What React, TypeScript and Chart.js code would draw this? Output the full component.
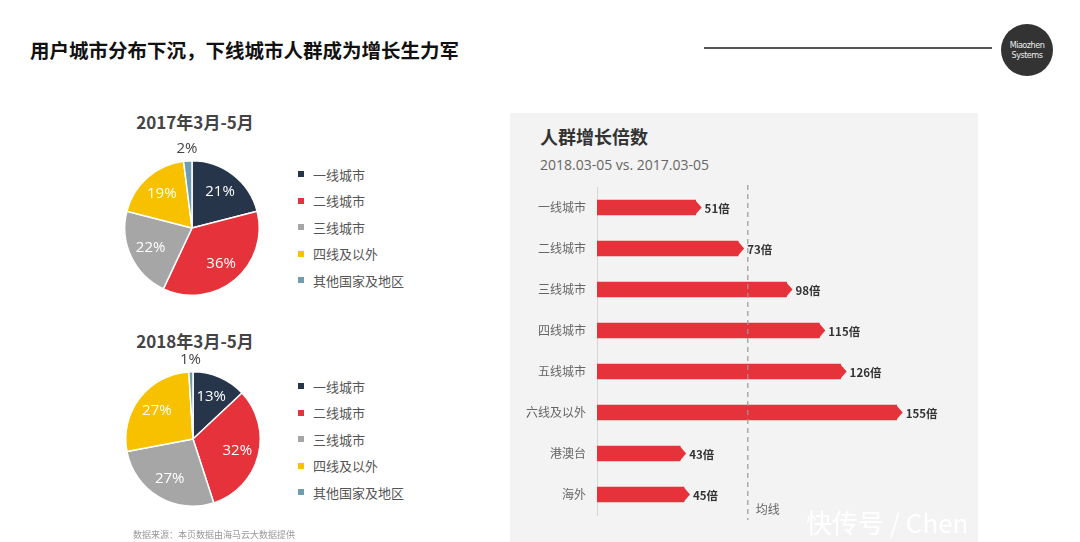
import React, { useEffect, useRef } from "react";
import { Chart, registerables } from "chart.js";

Chart.register(...registerables);

const pieCategories = ["一线城市", "二线城市", "三线城市", "四线及以外", "其他国家及地区"];
const pieColors = ["#26354a", "#e5323b", "#a6a6a6", "#f7c100", "#6f9db0"];
const pie2017Values = [21, 36, 22, 19, 2];
const pie2018Values = [13, 32, 27, 27, 1];

const barCategories = ["一线城市", "二线城市", "三线城市", "四线城市", "五线城市", "六线及以外", "港澳台", "海外"];
const barValues = [51, 73, 98, 115, 126, 155, 43, 45];
const averageValue = 78;

const CJK = '"Noto Sans CJK SC", "Noto Sans", sans-serif';
const LATIN = '"Open Sans", "Noto Sans CJK SC", sans-serif';

const pieLabelPlugin = {
  id: "pieLabels",
  afterDatasetsDraw(chart: any) {
    const ctx = chart.ctx;
    const meta = chart.getDatasetMeta(0);
    const data = chart.data.datasets[0].data as number[];
    ctx.save();
    meta.data.forEach((arc: any, i: number) => {
      const p = arc.getProps(["x", "y", "startAngle", "endAngle", "outerRadius"], true);
      const mid = (p.startAngle + p.endAngle) / 2;
      const v = data[i];
      const small = v < 5;
      const r = small ? p.outerRadius + 12 : p.outerRadius * 0.68;
      ctx.font = `15px ${LATIN}`;
      ctx.fillStyle = small ? "#444" : "#ffffff";
      ctx.textAlign = "center";
      ctx.textBaseline = "middle";
      ctx.fillText(v + "%", p.x + Math.cos(mid) * r, p.y + Math.sin(mid) * r);
    });
    ctx.restore();
  },
};

const barDecorPlugin = {
  id: "barDecor",
  afterDatasetsDraw(chart: any) {
    const ctx = chart.ctx;
    const area = chart.chartArea;
    const xs = chart.scales.x;
    const meta = chart.getDatasetMeta(0);
    const data = chart.data.datasets[0].data as number[];
    ctx.save();
    const ax = xs.getPixelForValue(averageValue);
    ctx.strokeStyle = "#9a9a9a";
    ctx.lineWidth = 1.2;
    ctx.setLineDash([5, 4]);
    ctx.beginPath();
    ctx.moveTo(ax, area.top - 2);
    ctx.lineTo(ax, area.bottom + 6);
    ctx.stroke();
    ctx.setLineDash([]);
    ctx.font = `12px ${CJK}`;
    ctx.fillStyle = "#666";
    ctx.textAlign = "left";
    ctx.textBaseline = "middle";
    ctx.fillText("均线", ax + 8, area.bottom - 6);
    meta.data.forEach((bar: any, i: number) => {
      const p = bar.getProps(["x", "y", "height"], true);
      const h = p.height;
      ctx.fillStyle = "#e5323b";
      ctx.beginPath();
      ctx.moveTo(p.x - 0.5, p.y - h / 2);
      ctx.lineTo(p.x + 6, p.y);
      ctx.lineTo(p.x - 0.5, p.y + h / 2);
      ctx.closePath();
      ctx.fill();
      ctx.font = `bold 11.5px ${CJK}`;
      ctx.fillStyle = "#333";
      ctx.textAlign = "left";
      ctx.textBaseline = "middle";
      ctx.fillText(data[i] + "倍", p.x + 9, p.y + 1);
    });
    ctx.restore();
  },
};

function PieChart({ values }: { values: number[] }) {
  const ref = useRef<HTMLCanvasElement>(null);
  useEffect(() => {
    const chart = new Chart(ref.current as HTMLCanvasElement, {
      type: "pie",
      data: {
        labels: pieCategories,
        datasets: [
          {
            data: values,
            backgroundColor: pieColors,
            borderColor: "#ffffff",
            borderWidth: 1.5,
          },
        ],
      },
      options: {
        responsive: false,
        animation: false,
        layout: { padding: 32 },
        plugins: { legend: { display: false }, tooltip: { enabled: false } },
      },
      plugins: [pieLabelPlugin],
    } as any);
    return () => chart.destroy();
  }, [values]);
  return <canvas ref={ref} width={200} height={200} />;
}

function BarChart() {
  const ref = useRef<HTMLCanvasElement>(null);
  useEffect(() => {
    const chart = new Chart(ref.current as HTMLCanvasElement, {
      type: "bar",
      data: {
        labels: barCategories,
        datasets: [
          {
            data: barValues,
            backgroundColor: "#e5323b",
            borderWidth: 0,
            barThickness: 15,
          },
        ],
      },
      options: {
        indexAxis: "y",
        responsive: false,
        animation: false,
        layout: { padding: { top: 7, bottom: 5, right: 33, left: 0 } },
        plugins: { legend: { display: false }, tooltip: { enabled: false } },
        scales: {
          x: { display: false, min: 0, max: 180 },
          y: {
            afterFit: (s: any) => {
              s.width = 87;
              s.paddingTop = 0;
              s.paddingBottom = 0;
            },
            grid: { display: false, drawTicks: false },
            border: { display: true, color: "#d6d6d6", width: 1 },
            ticks: { color: "#666", font: { family: CJK, size: 12 }, padding: 11 },
          },
        },
      },
      plugins: [barDecorPlugin],
    } as any);
    return () => chart.destroy();
  }, []);
  return <canvas ref={ref} width={468} height={340} />;
}

function Legend({ top }: { top: number }) {
  return (
    <div style={{ position: "absolute", left: 298, top }}>
      {pieCategories.map((c, i) => (
        <div
          key={c}
          style={{
            position: "absolute",
            top: i * 26.6,
            left: 0,
            display: "flex",
            alignItems: "center",
            whiteSpace: "nowrap",
            height: 18,
            marginTop: -10,
          }}
        >
          <span style={{ width: 6, height: 6, background: pieColors[i], display: "inline-block", marginRight: 9 }} />
          <span style={{ fontFamily: CJK, fontSize: 13, color: "#555" }}>{c}</span>
        </div>
      ))}
    </div>
  );
}

export default function App() {
  const abs = (l: number, t: number): React.CSSProperties => ({ position: "absolute", left: l, top: t });
  return (
    <div
      style={{
        position: "absolute",
        left: 0,
        top: 0,
        width: 1080,
        height: 542,
        background: "#ffffff",
        overflow: "hidden",
        fontFamily: CJK,
      }}
    >
      <div style={{ ...abs(30, 37), fontSize: 19.5, fontWeight: 700, color: "#111", whiteSpace: "nowrap", lineHeight: "26px" }}>
        用户城市分布下沉，下线城市人群成为增长生力军
      </div>
      <div style={{ ...abs(704, 47), width: 288, height: 1.5, background: "#555" }} />
      <div
        style={{
          ...abs(1001, 24),
          width: 52,
          height: 52,
          borderRadius: 26,
          background: "#333",
          color: "#eee",
          display: "flex",
          flexDirection: "column",
          alignItems: "center",
          justifyContent: "center",
          fontFamily: '"DejaVu Sans Condensed", "Liberation Sans", sans-serif',
          fontSize: 9,
          lineHeight: "10px",
          letterSpacing: -0.5,
        }}
      >
        <span>Miaozhen</span>
        <span>Systems</span>
      </div>

      <div style={{ ...abs(95, 110), width: 200, textAlign: "center", fontSize: 17, fontWeight: 700, color: "#444", lineHeight: "24px" }}>
        2017年3月-5月
      </div>
      <div style={abs(92, 128)}>
        <PieChart values={pie2017Values} />
      </div>
      <Legend top={175} />

      <div style={{ ...abs(95, 329), width: 200, textAlign: "center", fontSize: 17, fontWeight: 700, color: "#444", lineHeight: "24px" }}>
        2018年3月-5月
      </div>
      <div style={abs(93, 339)}>
        <PieChart values={pie2018Values} />
      </div>
      <Legend top={387} />

      <div style={{ ...abs(133, 528), fontSize: 9, color: "#999", whiteSpace: "nowrap", lineHeight: "14px" }}>
        数据来源：本页数据由海马云大数据提供
      </div>

      <div style={{ ...abs(510, 113), width: 468, height: 429, background: "#f3f3f3" }} />
      <div style={{ ...abs(540, 124), fontSize: 18, fontWeight: 700, color: "#333", lineHeight: "24px", whiteSpace: "nowrap" }}>
        人群增长倍数
      </div>
      <div style={{ ...abs(540, 156), fontSize: 14, color: "#666", lineHeight: "18px", whiteSpace: "nowrap", fontFamily: LATIN }}>
        2018.03-05 vs. 2017.03-05
      </div>
      <div style={abs(510, 180)}>
        <BarChart />
      </div>
      <div style={{ ...abs(806, 505), fontSize: 26, color: "#ffffff", lineHeight: "34px", whiteSpace: "nowrap", fontFamily: CJK }}>
        快传号 / Chen
      </div>
    </div>
  );
}
